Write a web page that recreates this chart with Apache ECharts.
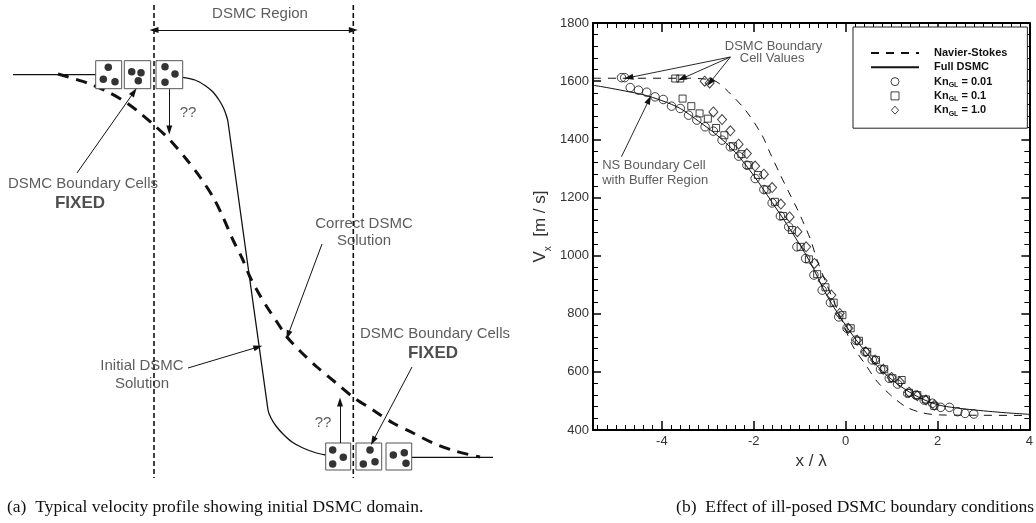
<!DOCTYPE html>
<html><head><meta charset="utf-8">
<script src="https://cdn.jsdelivr.net/npm/echarts@6/dist/echarts.min.js"></script>
<style>html,body{margin:0;padding:0;background:#fff}#c{width:1036px;height:523px}</style>
</head><body><div id="c"></div>
<script>
// ================= Panel (b): data =================
const xTickLabels = [-4, -2, 0, 2, 4];
const yTickLabels = [400, 600, 800, 1000, 1200, 1400, 1600, 1800];
const xMinorTicks = [];
for (let k = -27; k <= 19; k++) { if (k % 10 !== 0) xMinorTicks.push(+(k * 0.2).toFixed(1)); }

const nsX = [-5.5,-3.4,-3.0,-2.8,-2.55,-2.18,-1.82,-1.64,-1.42,-1.24,-1.06,-0.91,-0.76,-0.62,-0.45,-0.25,-0.05,0.15,0.44,0.69,0.98,1.31,1.67,2.04,2.5,4.0];
const nsV = [1610,1610,1606,1597,1563,1500,1414,1351,1277,1219,1162,1110,1053,984,915,840,765,690,623,566,520,480,459,452,451,450];

const dsmcX = [-5.5,-5.2,-4.8,-4.4,-4.0,-3.6,-3.2,-2.8,-2.4,-2.0,-1.6,-1.2,-0.8,-0.4,0,0.4,0.8,1.2,1.6,2.0,2.4,2.8,3.2,3.6,4.0];
const dsmcV = [1586,1578,1566,1553,1533,1506,1462,1414,1355,1275,1183,1088,985,860,760,675,602,550,512,487,476,469,463,458,454];

const kn001X = [-4.88,-4.81,-4.69,-4.51,-4.33,-4.15,-3.97,-3.79,-3.60,-3.42,-3.24,-3.06,-2.88,-2.69,-2.51,-2.33,-2.15,-1.97,-1.78,-1.60,-1.42,-1.24,-1.06,-0.87,-0.69,-0.51,-0.33,-0.15,0.03,0.22,0.42,0.58,0.76,0.95,1.13,1.35,1.53,1.71,1.89,2.07,2.26,2.44,2.60,2.79];
const kn001V = [1612,1612,1578,1569,1562,1546,1537,1514,1506,1483,1466,1443,1428,1397,1374,1342,1311,1265,1227,1181,1136,1099,1030,990,933,881,838,789,750,709,669,641,609,578,558,526,520,503,492,478,478,463,457,455];

const kn01X = [-3.71,-3.60,-3.55,-3.36,-3.18,-3.00,-2.82,-2.64,-2.45,-2.27,-2.11,-1.91,-1.72,-1.54,-1.36,-1.17,-0.98,-0.80,-0.62,-0.44,-0.26,-0.07,0.11,0.29,0.47,0.66,0.84,1.02,1.22,1.38,1.56,1.75,1.93];
const kn01V = [1609,1609,1540,1514,1489,1471,1439,1414,1376,1349,1311,1277,1227,1185,1136,1088,1030,987,936,891,838,795,750,707,669,641,609,578,572,528,520,505,483];

const kn1X = [-3.07,-2.96,-2.88,-2.69,-2.51,-2.33,-2.15,-1.97,-1.78,-1.60,-1.41,-1.22,-1.05,-0.86,-0.68,-0.50,-0.31,-0.13,0.06,0.25,0.44,0.64,0.82,1.00,1.18,1.38,1.56,1.75,1.93];
const kn1V = [1600,1594,1494,1468,1429,1383,1351,1308,1280,1234,1177,1133,1082,1030,973,913,864,801,750,709,669,641,609,581,565,530,518,503,485];

const seriesNames = ['Navier-Stokes', 'Full DSMC', 'Kn_GL = 0.01', 'Kn_GL = 0.1', 'Kn_GL = 1.0'];

// annotations of panel (b), in plot units (x/λ, m/s)
const plotNotes = [
  ['DSMC Boundary', -1.57, 1721, 'center'],
  ['Cell Values', -1.60, 1678, 'center'],
  ['NS Boundary Cell', -5.30, 1309, 'left'],
  ['with Buffer Region', -5.30, 1259, 'left']
];
const plotArrows = [
  [[-2.51, 1683], [-4.72, 1612]],
  [[-2.51, 1683], [-3.56, 1609]],
  [[-2.51, 1683], [-2.95, 1596]],
  [[-4.88, 1340], [-4.28, 1536]]
];

// ================= Panel (a): schematic, read in schematic units =================
const upstreamLine = [[13, 74.7], [96, 74.7]];
const downstreamLine = [[411.7, 457.3], [493, 457.3]];
const initialSolution = [[182.7,77.3],[195,80],[205,85.5],[213,92],[219,100],[223.5,108],[226.5,116],[228,122],[268,410],[271,418],[276,426],[283,434],[292,442],[303,448],[315,452.5],[325.7,455]];
const correctSolution = [[58,74],[75,79],[90,84],[110,93],[127,103],[140,113],[154,125],[170,140],[187,160],[200,177],[213,197],[223,217],[233,240],[242,258],[250,277],[258,292],[267,307],[277,322],[287,337],[300,351],[317,367],[335,382],[353,397],[373,410],[393,423],[413,433],[433,443],[455,451],[480,457]];
const regionBounds = [154, 353.3];
const regionSpan = [5, 478];
const cells = [
  [95.7,60.7,121.7,88.7],[124.3,60.7,150.7,88.7],[156,60.7,182.7,88.7],
  [325.7,443,350.7,470],[356,443,381.7,470],[386,443,411.7,470]
];
const particles = [
  [108.3,67.3],[103.3,79.3],[115,81.7],
  [131.7,71.7],[141,72.7],[138.3,80.7],
  [165,66.7],[175,74],[165,82.3],
  [332.7,450],[343.3,457.3],[332.7,464],
  [370,450],[363.3,464],[375,461.7],
  [393.3,455],[404.3,452.7],[406,463.3]
];
const regionArrow = [[154, 30], [353.3, 30]];
const schematicArrows = [
  [[169.3, 89.3], [169.3, 130]],
  [[340, 443], [340, 402]],
  [[77, 173], [134, 92]],
  [[322, 244], [288, 335]],
  [[188, 368], [258, 347]],
  [[412, 367], [373, 441]]
];
const schematicNotes = [
  ['DSMC Region', 260, 14, false],
  ['??', 188, 113, false],
  ['??', 323, 423, false],
  ['DSMC Boundary Cells', 83, 184, false],
  ['FIXED', 80, 203, true],
  ['Correct DSMC', 364, 224, false],
  ['Solution', 364, 241, false],
  ['Initial DSMC', 142, 366, false],
  ['Solution', 142, 384, false],
  ['DSMC Boundary Cells', 435, 334, false],
  ['FIXED', 433, 353, true]
];

const captions = [
  '(a)  Typical velocity profile showing initial DSMC domain.',
  '(b)  Effect of ill-posed DSMC boundary conditions'
];

// ================= chart =================
const SANS = '"Liberation Sans", Arial, Helvetica, sans-serif';
const SERIF = '"Liberation Serif", "Times New Roman", serif';
const INK = '#111';
const GREY = '#333';
const pairs = (xs, ys) => xs.map((x, i) => [x, ys[i]]);

const chart = echarts.init(document.getElementById('c'), null, { renderer: 'canvas' });

const arrowLine = (segs, xi, yi, lw) => ({
  type: 'line', xAxisIndex: xi, yAxisIndex: yi, data: [], silent: true,
  markLine: {
    silent: true, animation: false,
    symbol: ['none', 'triangle'], symbolSize: [6, 9],
    label: { show: false },
    lineStyle: { color: INK, width: lw, type: 'solid' },
    emphasis: { disabled: true },
    data: segs.map(s => [{ coord: s[0] }, { coord: s[1] }])
  }
});

const noteSeries = (notes, xi, yi, styler) => ({
  type: 'scatter', xAxisIndex: xi, yAxisIndex: yi, symbolSize: 0, silent: true, z: 6,
  data: notes.map(n => ({
    value: [n[1], n[2]],
    label: Object.assign({ show: true, formatter: n[0], position: 'inside', verticalAlign: 'middle' }, styler(n))
  }))
});

const hiddenAxis = (extra) => Object.assign({ type: 'value', gridIndex: 0, show: false, splitLine: { show: false } }, extra);

const xBase = (extra) => Object.assign({
  type: 'value', gridIndex: 1, min: -5.5, max: 4,
  splitLine: { show: false },
  axisLine: { show: true, onZero: false, lineStyle: { color: '#000', width: 2 } },
  axisLabel: { show: false },
  axisTick: { show: true, inside: true, length: 9, lineStyle: { color: '#000', width: 1.5 }, customValues: xTickLabels }
}, extra);

const yBase = (extra) => Object.assign({
  type: 'value', gridIndex: 1, min: 400, max: 1800, interval: 200,
  splitLine: { show: false },
  axisLine: { show: true, onZero: false, lineStyle: { color: '#000', width: 2 } },
  axisLabel: { show: false },
  axisTick: { show: true, inside: true, length: 8, lineStyle: { color: '#000', width: 1.5 } },
  minorTick: { show: true, splitNumber: 5, length: 5, lineStyle: { color: '#000', width: 1 } }
}, extra);

// legend icons: lines keep their own stroke; marker icons drawn with aspect kept
const legendIcons = [null, null, 'circle', 'path://M0,0H8V8H0Z', 'path://M4.5,0L9,5L4.5,10L0,5Z'];
const legendItems = seriesNames.map((n, i) => legendIcons[i]
  ? { name: n, icon: legendIcons[i], symbolKeepAspect: true, itemStyle: { color: 'rgba(255,255,255,0)', borderColor: INK, borderWidth: 1 } }
  : { name: n, itemStyle: { opacity: 0 } });

const option = {
  animation: false,
  backgroundColor: '#fff',
  title: [
    { text: captions[0], left: 2, top: 493, textStyle: { fontFamily: SERIF, fontSize: 17.5, fontWeight: 'normal', color: INK } },
    { text: captions[1], right: -3, top: 493, textStyle: { fontFamily: SERIF, fontSize: 17.5, fontWeight: 'normal', color: INK } }
  ],
  legend: {
    data: legendItems,
    orient: 'vertical', left: 853, top: 27,
    padding: [19, 20, 11, 17],
    itemWidth: 48, itemHeight: 8, itemGap: 0.3,
    symbolKeepAspect: true,
    backgroundColor: '#fff', borderColor: '#222', borderWidth: 1, borderRadius: 0,
    selectedMode: false,
    textStyle: {
      fontFamily: SANS, fontSize: 11, fontWeight: 'bold', color: INK, padding: [0, 0, 0, 10], height: 14, lineHeight: 14,
      rich: {
        b: { fontFamily: SANS, fontSize: 11, fontWeight: 'bold', color: INK, lineHeight: 14 },
        s: { fontFamily: SANS, fontSize: 7, fontWeight: 'bold', color: INK, verticalAlign: 'bottom', lineHeight: 14 }
      }
    },
    formatter: n => { const m = n.match(/^Kn_GL(.*)$/); return m ? '{b|Kn}{s|GL}{b|' + m[1] + '}' : '{b|' + n + '}'; }
  },
  grid: [
    { left: 0, top: 0, width: 520, height: 480 },
    { left: 593, top: 23, width: 437, height: 407 }
  ],
  xAxis: [
    hiddenAxis({ min: 0, max: 520 }),
    xBase({
      position: 'bottom',
      name: 'x / λ', nameLocation: 'middle', nameGap: 12,
      nameTextStyle: { fontFamily: SANS, fontSize: 17, color: GREY, verticalAlign: 'top' },
      axisLabel: { show: true, customValues: xTickLabels, margin: 5, fontFamily: SANS, fontSize: 13, color: GREY }
    }),
    xBase({ position: 'bottom', axisLine: { show: false }, axisTick: { show: true, inside: true, length: 5, lineStyle: { color: '#000', width: 1 }, customValues: xMinorTicks } }),
    xBase({ position: 'top' }),
    xBase({ position: 'top', axisLine: { show: false }, axisTick: { show: true, inside: true, length: 5, lineStyle: { color: '#000', width: 1 }, customValues: xMinorTicks } })
  ],
  yAxis: [
    hiddenAxis({ min: 0, max: 480, inverse: true }),
    yBase({
      position: 'left',
      name: '{v|V}{s|x}{v|  [m / s]}', nameLocation: 'middle', nameGap: 40, nameRotate: 90,
      nameTextStyle: {
        color: GREY,
        rich: {
          v: { fontFamily: SANS, fontSize: 17, color: GREY, lineHeight: 20 },
          s: { fontFamily: SANS, fontSize: 10, color: GREY, verticalAlign: 'bottom', lineHeight: 26 }
        }
      },
      axisLabel: { show: true, margin: 4, fontFamily: SANS, fontSize: 13, color: GREY, formatter: v => yTickLabels.includes(v) ? String(v) : '' }
    }),
    yBase({ position: 'right' })
  ],
  series: [
    // ---------- panel (a) ----------
    { type: 'line', xAxisIndex: 0, yAxisIndex: 0, data: upstreamLine, symbol: 'none', silent: true, lineStyle: { color: INK, width: 1.3 }, z: 2 },
    { type: 'line', xAxisIndex: 0, yAxisIndex: 0, data: downstreamLine, symbol: 'none', silent: true, lineStyle: { color: INK, width: 1.3 }, z: 2 },
    { type: 'line', xAxisIndex: 0, yAxisIndex: 0, data: initialSolution, symbol: 'none', smooth: 0.2, silent: true, lineStyle: { color: INK, width: 1.3 }, z: 2 },
    { type: 'line', xAxisIndex: 0, yAxisIndex: 0, data: correctSolution, symbol: 'none', smooth: 0.3, silent: true, lineStyle: { color: INK, width: 3, type: [11, 8] }, z: 2 },
    ...regionBounds.map(bx => ({
      type: 'line', xAxisIndex: 0, yAxisIndex: 0, data: [[bx, regionSpan[0]], [bx, regionSpan[1]]], symbol: 'none', silent: true,
      lineStyle: { color: INK, width: 1.6, type: [5, 3] }, z: 2
    })),
    {
      type: 'custom', xAxisIndex: 0, yAxisIndex: 0, data: cells, silent: true, z: 4,
      renderItem: (params, api) => {
        const p0 = api.coord([api.value(0), api.value(1)]);
        const p1 = api.coord([api.value(2), api.value(3)]);
        return { type: 'rect', shape: { x: p0[0], y: p0[1], width: p1[0] - p0[0], height: p1[1] - p0[1] }, style: { fill: '#fff', stroke: '#555', lineWidth: 1 } };
      }
    },
    { type: 'scatter', xAxisIndex: 0, yAxisIndex: 0, data: particles, symbol: 'circle', symbolSize: 7.5, silent: true, itemStyle: { color: '#000' }, z: 5 },
    arrowLine(schematicArrows, 0, 0, 1),
    {
      type: 'line', xAxisIndex: 0, yAxisIndex: 0, data: [], silent: true,
      markLine: {
        silent: true, animation: false, symbol: ['triangle', 'triangle'], symbolSize: [6, 9],
        label: { show: false }, lineStyle: { color: INK, width: 1, type: 'solid' },
        data: [[{ coord: regionArrow[0] }, { coord: regionArrow[1] }]]
      }
    },
    noteSeries(schematicNotes, 0, 0, n => ({ fontFamily: SANS, fontSize: n[3] ? 17 : 15, fontWeight: n[3] ? 'bold' : 'normal', color: n[3] ? '#222' : GREY, align: 'center' })),

    // ---------- panel (b) ----------
    { name: seriesNames[0], type: 'line', xAxisIndex: 1, yAxisIndex: 1, data: pairs(nsX, nsV), symbol: 'none', smooth: 0.3, lineStyle: { color: INK, width: 1, type: [8, 7] }, itemStyle: { color: INK }, z: 2 },
    { name: seriesNames[1], type: 'line', xAxisIndex: 1, yAxisIndex: 1, data: pairs(dsmcX, dsmcV), symbol: 'none', smooth: 0.3, lineStyle: { color: INK, width: 1 }, itemStyle: { color: INK }, z: 2 },
    { name: seriesNames[2], type: 'scatter', xAxisIndex: 1, yAxisIndex: 1, data: pairs(kn001X, kn001V), symbol: 'circle', symbolSize: 8.5, symbolKeepAspect: true, itemStyle: { color: 'rgba(255,255,255,0)', borderColor: INK, borderWidth: 1 }, z: 3 },
    { name: seriesNames[3], type: 'scatter', xAxisIndex: 1, yAxisIndex: 1, data: pairs(kn01X, kn01V), symbol: 'rect', symbolSize: 7, symbolKeepAspect: true, itemStyle: { color: 'rgba(255,255,255,0)', borderColor: INK, borderWidth: 1 }, z: 3 },
    { name: seriesNames[4], type: 'scatter', xAxisIndex: 1, yAxisIndex: 1, data: pairs(kn1X, kn1V), symbol: 'diamond', symbolSize: [9, 10], symbolKeepAspect: true, itemStyle: { color: 'rgba(255,255,255,0)', borderColor: INK, borderWidth: 1 }, z: 3 },
    arrowLine(plotArrows, 1, 1, 0.9),
    noteSeries(plotNotes, 1, 1, n => ({ fontFamily: SANS, fontSize: 13, color: GREY, align: n[3] }))
  ]
};
chart.setOption(option);
</script>
</body></html>
